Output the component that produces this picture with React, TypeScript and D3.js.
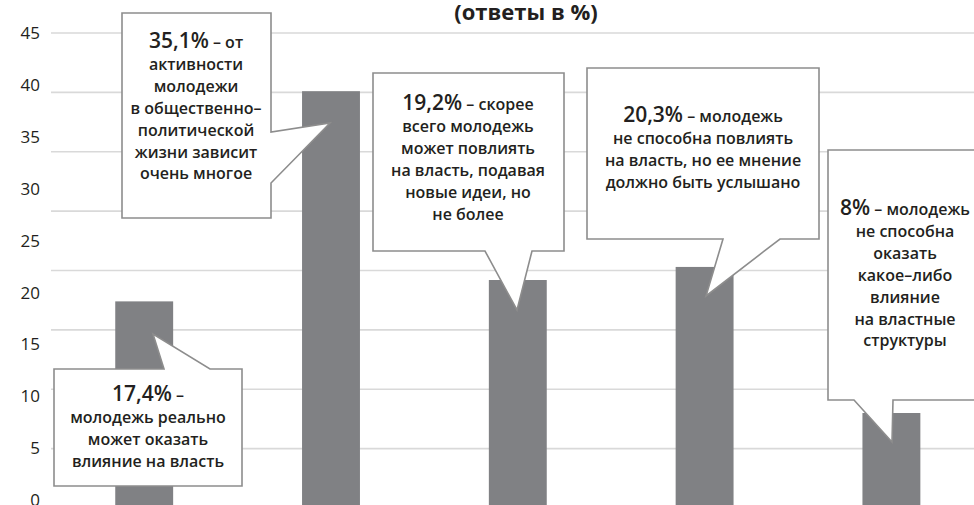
import React from "react";
import * as d3 from "d3";

// bars (no axis labels in the source picture)
const categories = ["Реально", "Очень многое", "Скорее всего", "Не способна", "Никакого"];
const values = [17.4, 35.1, 19.2, 20.3, 8];

// the printed y labels run 0..45, the gridlines 0..40
const yTickLabels = [0, 5, 10, 15, 20, 25, 30, 35, 40, 45];
const gridTicks = [0, 5, 10, 15, 20, 25, 30, 35, 40];

const calloutNumbers = ["17,4%", "35,1%", "19,2%", "20,3%", "8%"];
const calloutTexts = [
  [" –", "молодежь реально", "может оказать", "влияние на власть"],
  [" – от", "активности", "молодежи", "в общественно–", "политической", "жизни зависит", "очень многое"],
  [" – скорее", "всего молодежь", "может повлиять", "на власть, подавая", "новые идеи, но", "не более"],
  [" – молодежь", "не способна повлиять", "на власть, но ее мнение", "должно быть услышано"],
  [" – молодежь", "не способна", "оказать", "какое–либо", "влияние", "на властные", "структуры"],
];

const W = 974;
const H = 505;
const FONT = "'Open Sans', 'DejaVu Sans', sans-serif";

// callout boxes, pixels
const callouts = [
  { box: [54, 369, 242, 486], side: "top", base: [164, 210], tip: [153, 334], cx: 148, y0: 401 },
  { box: [122, 13, 271, 218], side: "right", base: [132, 183], tip: [330, 123], cx: 196, y0: 48 },
  { box: [373, 73, 564, 251], side: "bottom", base: [485, 532], tip: [517, 310], cx: 468, y0: 110 },
  { box: [587, 68, 819, 239], side: "bottom", base: [723, 780], tip: [706, 296], cx: 703, y0: 122 },
  { box: [828, 150, 984, 400], side: "bottom", base: [854, 893], tip: [892, 442], cx: 905, y0: 215 },
];

function calloutPath(c) {
  const [x0, y0, x1, y1] = c.box;
  const [a, b] = c.base;
  const [tx, ty] = c.tip;
  let pts;
  if (c.side === "top") {
    pts = [[x0, y0], [a, y0], [tx, ty], [b, y0], [x1, y0], [x1, y1], [x0, y1]];
  } else if (c.side === "right") {
    pts = [[x0, y0], [x1, y0], [x1, a], [tx, ty], [x1, b], [x1, y1], [x0, y1]];
  } else {
    pts = [[x0, y0], [x1, y0], [x1, y1], [b, y1], [tx, ty], [a, y1], [x0, y1]];
  }
  return d3.line()(pts) + "Z";
}

const App = () => {
  const x = d3.scaleBand().domain(categories).range([50.8, 984.8]).paddingInner(0.69).paddingOuter(0.345);
  const y = d3.scaleLinear().domain([0, 40]).range([508, 33]);
  const yLabel = d3.scaleLinear().domain([0, 45]).range([500, 33]);
  const lineH = 21.9;

  return (
    <div style={{ position: "absolute", left: 0, top: 0, width: W, height: H, background: "#fff" }}>
      <svg width={W} height={H} style={{ display: "block" }} fontFamily={FONT}>
        {/* title (first line is cut off in the source) */}
        <text x={526} y={20} textAnchor="middle" fontSize={22} fontWeight={700} fill="#231f20">
          (ответы в %)
        </text>

        {/* gridlines */}
        {gridTicks.map((t) => (
          <line key={t} x1={51} x2={W} y1={y(t)} y2={y(t)} stroke="#d9d9d9" strokeWidth={1.6} />
        ))}

        {/* y labels */}
        {yTickLabels.map((t) => (
          <text key={t} x={40} y={yLabel(t)} dy="0.36em" textAnchor="end" fontSize={17} fill="#231f20">
            {t}
          </text>
        ))}

        {/* bars */}
        {values.map((v, i) => (
          <rect
            key={categories[i]}
            x={x(categories[i])}
            y={y(v)}
            width={x.bandwidth()}
            height={y(0) - y(v)}
            fill="#808184"
          />
        ))}

        {/* callouts */}
        {callouts.map((c, i) => (
          <g key={i}>
            <path d={calloutPath(c)} fill="#fff" stroke="#8d8d8d" strokeWidth={1.6} strokeLinejoin="miter" />
            <text textAnchor="middle" fill="#231f20" fontWeight={600}>
              {calloutTexts[i].map((line, j) =>
                j === 0 ? (
                  <tspan key={j} x={c.cx} y={c.y0}>
                    <tspan fontSize={21}>{calloutNumbers[i]}</tspan>
                    <tspan fontSize={16}>{line}</tspan>
                  </tspan>
                ) : (
                  <tspan key={j} x={c.cx} y={c.y0 + j * lineH} fontSize={16}>
                    {line}
                  </tspan>
                )
              )}
            </text>
          </g>
        ))}
      </svg>
    </div>
  );
};

export default App;
